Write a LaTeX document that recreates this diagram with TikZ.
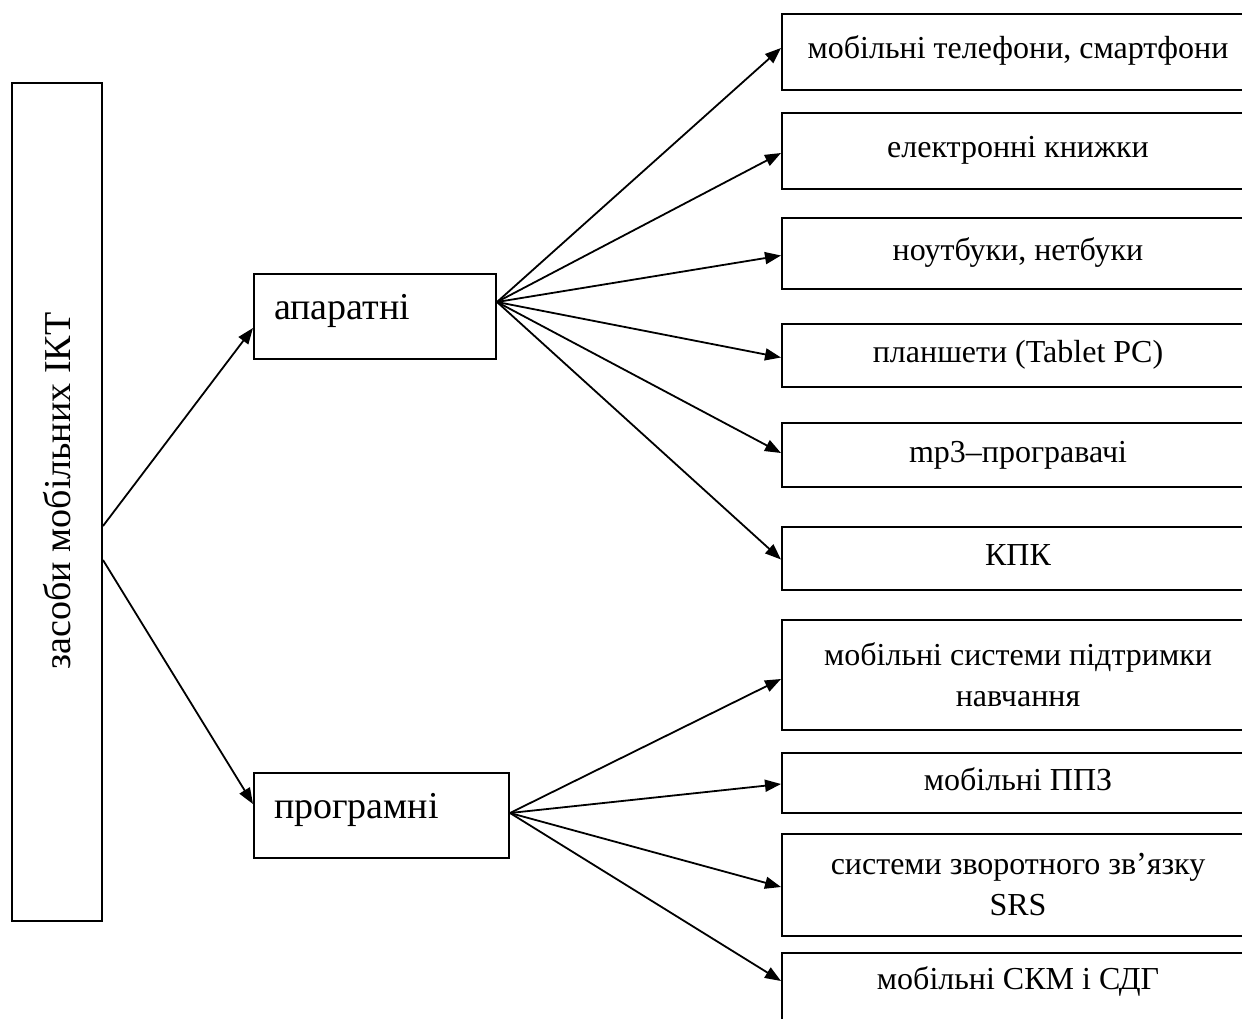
\documentclass[tikz,border=0pt]{standalone}
\usepackage{fontspec}
\setmainfont{Liberation Serif}
\usetikzlibrary{arrows.meta}
\begin{document}
\begin{tikzpicture}[x=1pt,y=1pt,
  box/.style={draw, line width=2pt, rectangle, anchor=north west, inner sep=0pt},
  rbox/.style={box, minimum width=472pt, font=\fontsize{32}{41}\selectfont, align=center},
  one/.style={text height=21pt, text depth=7pt},
  mbox/.style={box, font=\fontsize{38}{46}\selectfont, text height=20pt, text depth=15pt, inner xsep=20pt, align=left, minimum height=85pt},
  conn/.style={line width=1.8pt, -{Triangle[length=16pt,width=12pt]}}]
\useasboundingbox (0,0) rectangle (1242,-1019);
\begin{scope}
\clip (0,0) rectangle (1242,-1019);

\node[box, minimum width=90pt, minimum height=838pt, font=\fontsize{38}{46}\selectfont] (main) at (11,-82)
  {\rotatebox{90}{\hspace{22pt}засоби мобільних ІКТ}};

\node[mbox, text width=202pt] (app) at (253,-273) {апаратні};
\node[mbox, text width=215pt] (prog) at (253,-772) {програмні};

\node[rbox, one, minimum height=76pt] (r1) at (781,-13) {мобільні телефони, смартфони};
\node[rbox, one, minimum height=76pt] (r2) at (781,-112) {електронні книжки};
\node[rbox, one, minimum height=71pt] (r3) at (781,-217) {ноутбуки, нетбуки};
\node[rbox, one, minimum height=63pt] (r4) at (781,-323) {планшети (Tablet PC)};
\node[rbox, one, minimum height=64pt] (r5) at (781,-422) {mp3–програвачі};
\node[rbox, one, minimum height=63pt] (r6) at (781,-526) {КПК};
\node[rbox, minimum height=110pt] (r7) at (781,-619) {мобільні системи підтримки\\навчання};
\node[rbox, one, minimum height=60pt] (r8) at (781,-752) {мобільні ППЗ};
\node[rbox, minimum height=102pt] (r9) at (781,-833) {системи зворотного зв’язку\\SRS};
\node[rbox, minimum height=88pt, text height=21pt, text depth=37pt] (r10) at (781,-952) {мобільні СКМ і СДГ};

\draw[conn] ([yshift=-24pt]main.east) -- ([yshift=-11.5pt]app.west);
\draw[conn] ([yshift=-58pt]main.east) -- ([yshift=11.5pt]prog.west);

\draw[conn] ([yshift=14.5pt]app.east) -- ([yshift=4pt]r1.west);
\draw[conn] ([yshift=14.5pt]app.east) -- ([yshift=-2pt]r2.west);
\draw[conn] ([yshift=14.5pt]app.east) -- ([yshift=-2pt]r3.west);
\draw[conn] ([yshift=14.5pt]app.east) -- ([yshift=-2pt]r4.west);
\draw[conn] ([yshift=14.5pt]app.east) -- ([yshift=2pt]r5.west);
\draw[conn] ([yshift=14.5pt]app.east) -- ([yshift=-1pt]r6.west);

\draw[conn] ([yshift=2.5pt]prog.east) -- ([yshift=-4pt]r7.west);
\draw[conn] ([yshift=2.5pt]prog.east) -- ([yshift=-1pt]r8.west);
\draw[conn] ([yshift=2.5pt]prog.east) -- ([yshift=-2pt]r9.west);
\draw[conn] ([yshift=2.5pt]prog.east) -- ([yshift=16pt]r10.west);
\end{scope}
\end{tikzpicture}
\end{document}
